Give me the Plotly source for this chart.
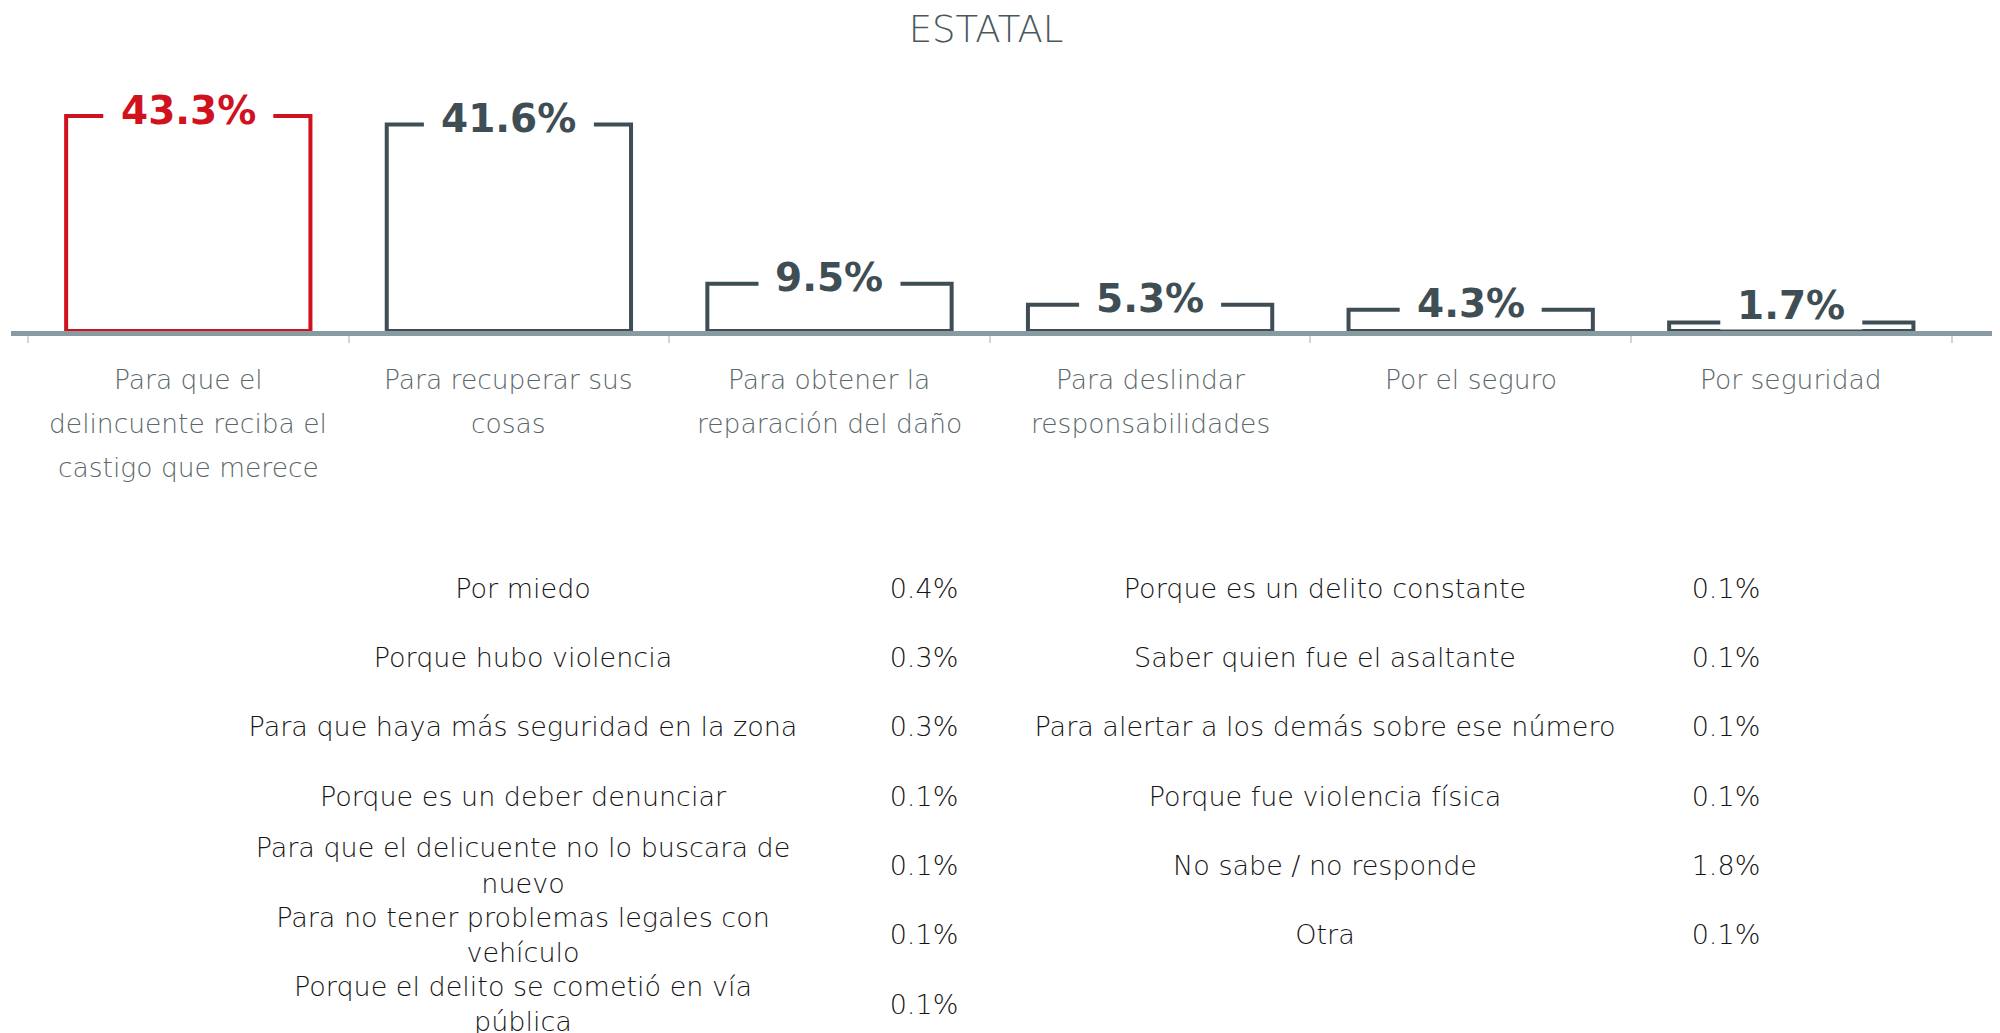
import plotly.graph_objects as go

# main bars
categories = [
    "Para que el<br>delincuente reciba el<br>castigo que merece",
    "Para recuperar sus<br>cosas",
    "Para obtener la<br>reparación del daño",
    "Para deslindar<br>responsabilidades",
    "Por el seguro",
    "Por seguridad",
]
values = [43.3, 41.6, 9.5, 5.3, 4.3, 1.7]

# other answers (two columns below the chart)
left_labels = [
    "Por miedo",
    "Porque hubo violencia",
    "Para que haya más seguridad en la zona",
    "Porque es un deber denunciar",
    "Para que el delicuente no lo buscara de<br>nuevo",
    "Para no tener problemas legales con<br>vehículo",
    "Porque el delito se cometió en vía<br>pública",
]
left_values = [0.4, 0.3, 0.3, 0.1, 0.1, 0.1, 0.1]
right_labels = [
    "Porque es un delito constante",
    "Saber quien fue el asaltante",
    "Para alertar a los demás sobre ese número",
    "Porque fue violencia física",
    "No sabe / no responde",
    "Otra",
]
right_values = [0.1, 0.1, 0.1, 0.1, 1.8, 0.1]

RED = "#d0121f"
DARK = "#3e4e54"
FONT = "DejaVu Sans"
W, H = 1992, 1025  # page body has an 8px margin

keys = [c.replace("<br>", " ") for c in categories]
top = max(values)
bar_colors = [RED if v == top else DARK for v in values]

fig = go.Figure()

fig.add_trace(go.Bar(
    x=keys, y=values,
    marker=dict(color="white", line=dict(color=bar_colors, width=4)),
    hoverinfo="skip",
))

# table of the smaller answers
txt = dict(family=FONT, size=27, color="#151515", weight=200)
cols = [
    (0, left_labels),
    (1, [f"{v:.1f}%" for v in left_values]),
    (2, right_labels),
    (3, [f"{v:.1f}%" for v in right_values]),
]
for col, texts in cols:
    fig.add_trace(go.Scatter(
        x=[col] * len(texts), y=list(range(len(texts))),
        text=texts, mode="text", textposition="middle center",
        textfont=txt, cliponaxis=False, hoverinfo="skip",
        xaxis="x2", yaxis="y2",
    ))

shapes = []
annotations = []
for k, v, c in zip(keys, values, bar_colors):
    label = f"{v:.1f}%"
    w = len(label) * 28 + 30
    # white gap in the top edge of the bar behind the label
    shapes.append(dict(
        type="rect", xref="x", yref="y",
        xsizemode="pixel", ysizemode="pixel",
        xanchor=k, yanchor=v, x0=-w / 2, x1=w / 2, y0=-7, y1=7,
        fillcolor="white", line_width=0, layer="above",
    ))
    annotations.append(dict(
        x=k, y=max(v, 4.0), xref="x", yref="y", text=label, showarrow=False,
        yanchor="middle", yshift=6,
        font=dict(family=FONT, size=39, color=c, weight=700),
    ))

for k, c in zip(keys, categories):
    for n, line in enumerate(c.split("<br>")):
        annotations.append(dict(
            x=k, y=0, xref="x", yref="y", text=line, showarrow=False,
            yanchor="middle", yshift=-48 - 44 * n,
            font=dict(family=FONT, size=26.5, color="#5b676b", weight=200),
        ))

fig.update_layout(
    width=W, height=H,
    margin=dict(l=0, r=0, t=0, b=0),
    paper_bgcolor="white", plot_bgcolor="white",
    showlegend=False,
    bargap=0.238,
    title=dict(
        text="ESTATAL", x=978 / W, xanchor="center",
        y=1 - 21.5 / H, yanchor="middle", yref="container",
        font=dict(family=FONT, size=37, color="#4a585d", weight=200),
    ),
    xaxis=dict(
        type="category", domain=[3 / W, 1], range=[-0.553, 5.651],
        showticklabels=False, showgrid=False, zeroline=False,
        showline=True, linecolor="#879ba0", linewidth=5,
        ticks="outside", tickson="boundaries", ticklen=7,
        tickcolor="#d4d4d4", tickwidth=1.5,
    ),
    yaxis=dict(
        domain=[(H - 323) / H, (H - 52) / H],
        range=[0, 271 / 4.965], visible=False,
    ),
    xaxis2=dict(
        domain=[0, 1], range=[-515 / 401, (W - 515) / 401],
        anchor="y2", visible=False,
    ),
    yaxis2=dict(
        domain=[0, (H - 548.4) / H], range=[6.378, -0.5],
        anchor="x2", visible=False,
    ),
    shapes=shapes,
    annotations=annotations,
)

fig.write_html("out.html")
